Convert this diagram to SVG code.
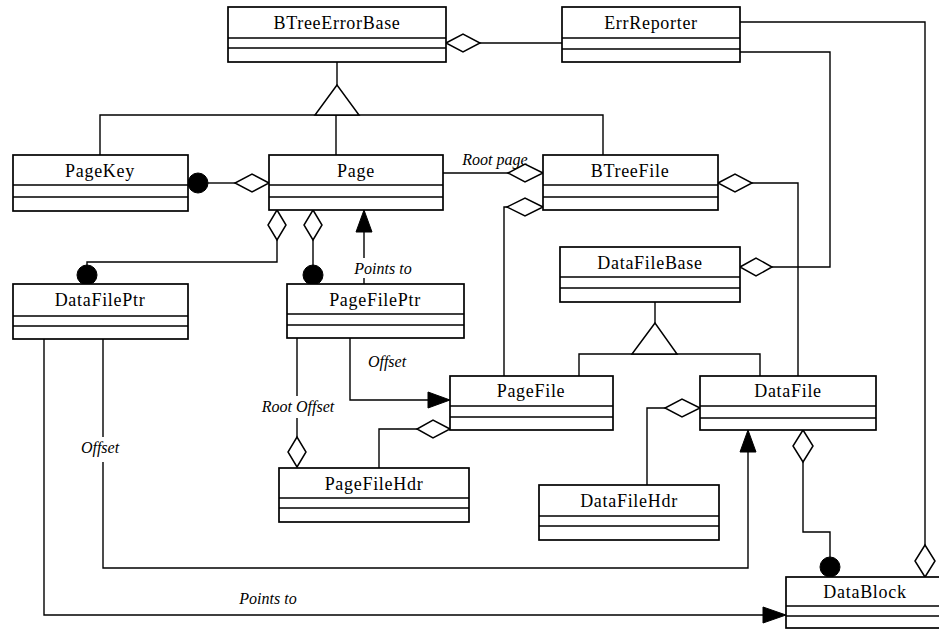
<svg xmlns="http://www.w3.org/2000/svg" width="939" height="630" viewBox="0 0 939 630">
  <style>
    .box { fill: #fff; stroke: #000; stroke-width: 1.7; }
    .sep { stroke: #000; stroke-width: 1.5; }
    .title { font-family: "Liberation Serif", "Times New Roman", serif; font-size: 18px; letter-spacing: 0.7px; text-anchor: middle; fill: #000; }
    .lbl { font-family: "Liberation Serif", "Times New Roman", serif; font-size: 16px; font-style: italic; text-anchor: middle; fill: #000; }
    .wire { fill: none; stroke: #000; stroke-width: 1.4; }
    .hollow { fill: #fff; stroke: #000; stroke-width: 1.5; }
    .solid { fill: #000; stroke: #000; stroke-width: 1; }
  </style>

  <rect width="939" height="630" fill="#fff"/>

  <!-- connectors -->
  <g id="connectors">
    <!-- BTreeErrorBase generalization -->
    <path class="wire" d="M337 62 V85 M100 155 V115 H603 V155 M336 115 V155"/>
    <polygon class="hollow" points="337,85 315,115 359,115"/>

    <!-- DataFileBase generalization -->
    <path class="wire" d="M655 302 V323 M579 376 V354 H760 V376"/>
    <polygon class="hollow" points="655,323 632,354 677,354"/>

    <!-- BTreeErrorBase <> ErrReporter -->
    <path class="wire" d="M480 43 H562"/>
    <polygon class="hollow" points="446,43 463,34 480,43 463,52"/>

    <!-- PageKey — Page -->
    <path class="wire" d="M208 183 H235"/>
    <circle class="solid" cx="198" cy="183" r="10"/>
    <polygon class="hollow" points="269,183 252,174 235,183 252,192"/>

    <!-- Page — BTreeFile (Root page) -->
    <path class="wire" d="M443 173 H508"/>
    <polygon class="hollow" points="543,173 525,164 508,173 525,182"/>
    <text class="lbl" x="495" y="165">Root page</text>

    <!-- BTreeFile <> PageFile -->
    <path class="wire" d="M507 207 H504 V376"/>
    <polygon class="hollow" points="543,207 525,198 507,207 525,216"/>

    <!-- BTreeFile <> DataFile -->
    <path class="wire" d="M752 183 H798 V376"/>
    <polygon class="hollow" points="718,183 735,174 752,183 735,192"/>

    <!-- ErrReporter — DataFileBase -->
    <path class="wire" d="M740 52 H830 V267 H772"/>
    <polygon class="hollow" points="740,267 756,258 772,267 756,276"/>

    <!-- ErrReporter — DataBlock -->
    <path class="wire" d="M740 22 H925 V545"/>
    <polygon class="hollow" points="925,577 915,561 925,545 935,561"/>

    <!-- Page <> DataFilePtr -->
    <path class="wire" d="M277 240 V262 H87 V266"/>
    <polygon class="hollow" points="277,210 286,225 277,240 268,225"/>
    <circle class="solid" cx="87" cy="275" r="10"/>

    <!-- Page <> PageFilePtr -->
    <path class="wire" d="M313 240 V266"/>
    <polygon class="hollow" points="313,210 322,225 313,240 304,225"/>
    <circle class="solid" cx="313" cy="275" r="10"/>

    <!-- PageFilePtr -> Page (Points to) -->
    <path class="wire" d="M364 232 V258 M364 278 V284"/>
    <polygon class="solid" points="364,210 356,232 372,232"/>
    <text class="lbl" x="383" y="274">Points to</text>

    <!-- PageFilePtr -> PageFile (Offset) -->
    <path class="wire" d="M350 338 V400 H428"/>
    <polygon class="solid" points="450,400 428,392 428,408"/>
    <text class="lbl" x="387" y="367">Offset</text>

    <!-- PageFilePtr <> PageFileHdr (Root Offset) -->
    <path class="wire" d="M297 338 V396 M297 418 V437"/>
    <polygon class="hollow" points="297,467 306,452 297,437 288,452"/>
    <text class="lbl" x="298" y="412">Root Offset</text>

    <!-- PageFile <> PageFileHdr -->
    <path class="wire" d="M417 429 H379 V468"/>
    <polygon class="hollow" points="450,429 433,420 417,429 433,438"/>

    <!-- DataFile <> DataFileHdr -->
    <path class="wire" d="M665 408 H647 V485"/>
    <polygon class="hollow" points="700,408 682,399 665,408 682,417"/>

    <!-- DataFile <> DataBlock -->
    <path class="wire" d="M803 462 V532 H830 V557"/>
    <polygon class="hollow" points="803,430 813,446 803,462 793,446"/>
    <circle class="solid" cx="830" cy="567" r="10"/>

    <!-- DataFilePtr -> DataFile (Offset) -->
    <path class="wire" d="M103 339 V437 M103 462 V568 H748 V452"/>
    <polygon class="solid" points="748,430 740,452 756,452"/>
    <text class="lbl" x="100" y="453">Offset</text>

    <!-- DataFilePtr -> DataBlock (Points to) -->
    <path class="wire" d="M44 339 V615 H763"/>
    <polygon class="solid" points="786,615 763,607 763,623"/>
    <text class="lbl" x="268" y="604">Points to</text>
  </g>

  <!-- classes -->
  <g id="BTreeErrorBase">
    <rect class="box" x="228" y="7" width="218" height="55"/>
    <path class="sep" d="M228 38 H446 M228 48 H446"/>
    <text class="title" x="337" y="29">BTreeErrorBase</text>
  </g>
  <g id="ErrReporter">
    <rect class="box" x="562" y="7" width="178" height="55"/>
    <path class="sep" d="M562 38 H740 M562 49 H740"/>
    <text class="title" x="651" y="29">ErrReporter</text>
  </g>
  <g id="PageKey">
    <rect class="box" x="13" y="155" width="175" height="56"/>
    <path class="sep" d="M13 185 H188 M13 197 H188"/>
    <text class="title" x="100" y="177">PageKey</text>
  </g>
  <g id="Page">
    <rect class="box" x="269" y="155" width="174" height="55"/>
    <path class="sep" d="M269 185 H443 M269 197 H443"/>
    <text class="title" x="356" y="177">Page</text>
  </g>
  <g id="BTreeFile">
    <rect class="box" x="543" y="155" width="175" height="55"/>
    <path class="sep" d="M543 185 H718 M543 197 H718"/>
    <text class="title" x="630" y="177">BTreeFile</text>
  </g>
  <g id="DataFileBase">
    <rect class="box" x="560" y="247" width="180" height="55"/>
    <path class="sep" d="M560 277 H740 M560 288 H740"/>
    <text class="title" x="650" y="269">DataFileBase</text>
  </g>
  <g id="DataFilePtr">
    <rect class="box" x="13" y="284" width="175" height="55"/>
    <path class="sep" d="M13 316 H188 M13 326 H188"/>
    <text class="title" x="100" y="306">DataFilePtr</text>
  </g>
  <g id="PageFilePtr">
    <rect class="box" x="287" y="284" width="177" height="54"/>
    <path class="sep" d="M287 314 H464 M287 325 H464"/>
    <text class="title" x="375" y="306">PageFilePtr</text>
  </g>
  <g id="PageFile">
    <rect class="box" x="450" y="376" width="163" height="54"/>
    <path class="sep" d="M450 406 H613 M450 417 H613"/>
    <text class="title" x="531" y="397">PageFile</text>
  </g>
  <g id="DataFile">
    <rect class="box" x="700" y="376" width="176" height="54"/>
    <path class="sep" d="M700 406 H876 M700 418 H876"/>
    <text class="title" x="788" y="397">DataFile</text>
  </g>
  <g id="PageFileHdr">
    <rect class="box" x="279" y="468" width="190" height="54"/>
    <path class="sep" d="M279 498 H469 M279 508 H469"/>
    <text class="title" x="374" y="490">PageFileHdr</text>
  </g>
  <g id="DataFileHdr">
    <rect class="box" x="539" y="485" width="180" height="55"/>
    <path class="sep" d="M539 516 H719 M539 526 H719"/>
    <text class="title" x="629" y="507">DataFileHdr</text>
  </g>
  <g id="DataBlock">
    <rect class="box" x="786" y="577" width="165" height="51"/>
    <path class="sep" d="M786 606 H951 M786 616 H951"/>
    <text class="title" x="865" y="598">DataBlock</text>
  </g>
</svg>
